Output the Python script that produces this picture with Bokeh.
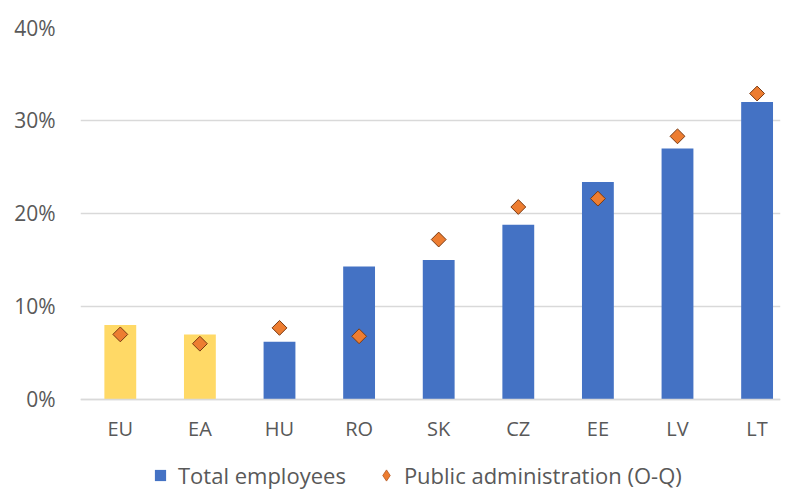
from math import pi
import numpy as np
from bokeh.plotting import figure
from bokeh.models import (Range1d, FixedTicker, NumeralTickFormatter, Legend,
                          LegendItem, ColumnDataSource)
from bokeh.embed import file_html
from bokeh.resources import INLINE

# ---- data ----
categories = ["EU", "EA", "HU", "RO", "SK", "CZ", "EE", "LV", "LT"]
aggregates = ["EU", "EA"]
total_employees = [0.080, 0.070, 0.062, 0.143, 0.150, 0.188, 0.234, 0.270, 0.320]
public_admin = [0.070, 0.060, 0.077, 0.068, 0.172, 0.207, 0.216, 0.283, 0.329]
y_ticks = [0.0, 0.1, 0.2, 0.3, 0.4]
series_names = ["Total employees", "Public administration (O-Q)"]

BLUE = "#4472C4"
YELLOW = "#FFD966"
ORANGE = "#ED7D31"
EDGE = "#7A3A12"
TEXT = "#595959"
GRID = "#D9D9D9"
FONT = "Open Sans"

xs = list(range(len(categories)))
src = ColumnDataSource(dict(
    x=xs,
    total=total_employees,
    public=public_admin,
    color=[YELLOW if c in aggregates else BLUE for c in categories],
))

# frame extends below zero to host the category labels and the legend
p = figure(frame_width=700, frame_height=463,
           x_range=Range1d(-0.5, 8.294), y_range=Range1d(-0.09785, 0.4),
           output_backend="svg", toolbar_location=None,
           min_border_left=80, min_border_right=6,
           min_border_top=27, min_border_bottom=0)
p.outline_line_color = None
p.background_fill_color = "white"
p.border_fill_color = "white"

bars = p.vbar(x="x", top="total", width=0.4, source=src,
              fill_color="color", line_color=None)
pts = p.scatter(x="x", y="public", source=src, marker="square", angle=pi / 4,
                size=10.5, fill_color=ORANGE, line_color=EDGE, line_width=1)

# legend keys (not drawn in the plot area)
key_src = ColumnDataSource(dict(x=np.array([np.nan]), y=np.array([np.nan])))
bar_key = p.scatter(x="x", y="y", source=key_src, marker="square",
                    fill_color=BLUE, line_color=None)
pt_key = p.scatter(x="x", y="y", source=key_src, marker="diamond",
                   fill_color=ORANGE, line_color="#B4561E", line_width=0.8)

# axes
p.xaxis.fixed_location = 0
p.xaxis.ticker = FixedTicker(ticks=xs)
p.xaxis.major_label_overrides = {i: c for i, c in zip(xs, categories)}
p.xaxis.axis_line_color = GRID
p.xaxis.axis_line_width = 1.5
p.xaxis.major_tick_line_color = None
p.xaxis.minor_tick_line_color = None
p.xaxis.major_tick_out = 0
p.xaxis.major_tick_in = 0
p.xaxis.major_label_standoff = 16
p.xaxis.major_label_text_font = FONT
p.xaxis.major_label_text_font_size = "20px"
p.xaxis.major_label_text_color = TEXT

p.yaxis.ticker = FixedTicker(ticks=y_ticks)
p.yaxis.formatter = NumeralTickFormatter(format="0%")
p.yaxis.axis_line_color = None
p.yaxis.major_tick_line_color = None
p.yaxis.minor_tick_line_color = None
p.yaxis.major_tick_out = 0
p.yaxis.major_label_standoff = 25
p.yaxis.major_label_text_font = FONT
p.yaxis.major_label_text_font_size = "21px"
p.yaxis.major_label_text_color = TEXT

p.xgrid.grid_line_color = None
p.ygrid.grid_line_color = GRID
p.ygrid.grid_line_width = 1.5

legend = Legend(items=[LegendItem(label=series_names[0], renderers=[bar_key], index=0),
                       LegendItem(label=series_names[1], renderers=[pt_key], index=0)],
                location=(66, 0), orientation="horizontal",
                glyph_width=28, glyph_height=28, label_standoff=4,
                label_height=24,
                label_text_font=FONT, label_text_font_size="22px",
                label_text_color=TEXT, padding=0, margin=0, spacing=26,
                border_line_color=None, background_fill_alpha=0)
p.add_layout(legend, "center")

open("out.html", "w").write(file_html(p, INLINE))
